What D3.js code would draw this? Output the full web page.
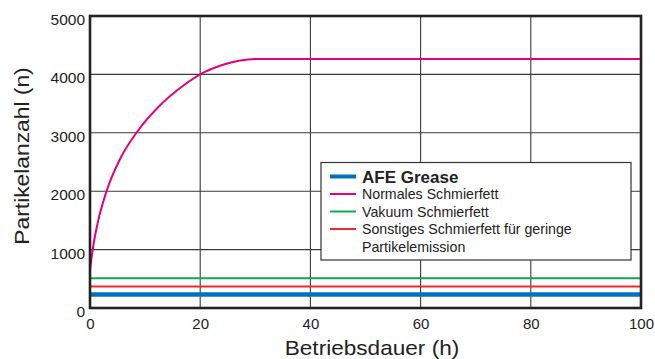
<!DOCTYPE html>
<html>
<head>
<meta charset="utf-8">
<script src="https://cdn.jsdelivr.net/npm/d3@7"></script>
<style>
  html, body { margin: 0; padding: 0; background: #fff; }
  svg { display: block; font-family: "Liberation Sans", Arial, Helvetica, sans-serif; }
</style>
</head>
<body>
<svg id="chart" width="655" height="359"></svg>
<script>
// Particle count over operating time for different greases
const xTicks = [0, 20, 40, 60, 80, 100];
const yTicks = [0, 1000, 2000, 3000, 4000, 5000];

const afeHours = [0, 100];
const afeCount = [230, 230];

const normalHours = [0, 0.5, 1.5, 3, 5.5, 8.5, 12.5, 16, 20, 24, 27, 30, 100];
const normalCount = [650, 1010, 1500, 2000, 2560, 3010, 3450, 3740, 4000, 4160, 4235, 4265, 4265];

const vacuumHours = [0, 100];
const vacuumCount = [510, 510];

const otherHours = [0, 100];
const otherCount = [370, 370];

const seriesNames = ["AFE Grease", "Normales Schmierfett", "Vakuum Schmierfett", "Sonstiges Schmierfett für geringe", "Partikelemission"];
const seriesColors = ["#0071bb", "#e5007e", "#12a651", "#ec2a30"];

const svg = d3.select("#chart");
const plot = { left: 90, top: 16, right: 641, bottom: 308 };

const x = d3.scaleLinear().domain([0, 100]).range([plot.left, plot.right]);
const y = d3.scaleLinear().domain([0, 5000]).range([plot.bottom, plot.top]);

// grid
svg.append("g")
  .selectAll("line")
  .data(xTicks.filter(d => d > 0 && d < 100))
  .join("line")
  .attr("x1", d => x(d)).attr("x2", d => x(d))
  .attr("y1", plot.top).attr("y2", plot.bottom)
  .attr("stroke", "#3a3a3a").attr("stroke-width", 1.1);

svg.append("g")
  .selectAll("line")
  .data(yTicks.filter(d => d > 0 && d < 5000))
  .join("line")
  .attr("x1", plot.left).attr("x2", plot.right)
  .attr("y1", d => y(d)).attr("y2", d => y(d))
  .attr("stroke", "#3a3a3a").attr("stroke-width", 1.1);

// axes (labels only, frame drawn separately)
const xAxis = svg.append("g")
  .attr("transform", `translate(0,${plot.bottom})`)
  .call(d3.axisBottom(x).tickValues(xTicks).tickSize(0).tickPadding(10).tickFormat(d3.format("d")));
xAxis.select(".domain").remove();
xAxis.selectAll("text").attr("font-size", 15).attr("fill", "#222").attr("font-family", "Liberation Sans, Arial, sans-serif");

const yAxis = svg.append("g")
  .attr("transform", `translate(${plot.left},0)`)
  .call(d3.axisLeft(y).tickValues(yTicks).tickSize(0).tickPadding(5).tickFormat(d3.format("d")));
yAxis.select(".domain").remove();
yAxis.selectAll("text").attr("font-size", 15.5).attr("fill", "#222").attr("dy", "0.55em").attr("font-family", "Liberation Sans, Arial, sans-serif");

// series lines
const straight = d3.line().x(d => x(d[0])).y(d => y(d[1]));
const smooth = d3.line().x(d => x(d[0])).y(d => y(d[1])).curve(d3.curveMonotoneX);
const series = [
  { hours: vacuumHours, count: vacuumCount, color: seriesColors[2], width: 2 },
  { hours: otherHours, count: otherCount, color: seriesColors[3], width: 2 },
  { hours: afeHours, count: afeCount, color: seriesColors[0], width: 4.5 },
  { hours: normalHours, count: normalCount, color: seriesColors[1], width: 2, gen: smooth }
];
series.forEach(s => {
  svg.append("path")
    .datum(d3.zip(s.hours, s.count))
    .attr("d", s.gen || straight)
    .attr("fill", "none")
    .attr("stroke", s.color)
    .attr("stroke-width", s.width);
});

// frame
svg.append("rect")
  .attr("x", plot.left).attr("y", plot.top)
  .attr("width", plot.right - plot.left).attr("height", plot.bottom - plot.top)
  .attr("fill", "none").attr("stroke", "#222").attr("stroke-width", 2.6);

// axis titles (slightly widened lettering)
svg.append("text")
  .attr("transform", `translate(372,355) scale(1.13,1)`)
  .attr("text-anchor", "middle").attr("font-size", 20).attr("fill", "#222")
  .text("Betriebsdauer (h)");

svg.append("text")
  .attr("transform", `translate(29,156) rotate(-90) scale(1.14,1)`)
  .attr("text-anchor", "middle").attr("font-size", 20).attr("fill", "#222")
  .text("Partikelanzahl (n)");

// legend
const lg = svg.append("g");
lg.append("rect")
  .attr("x", 321).attr("y", 162.5).attr("width", 310).attr("height", 97.5)
  .attr("fill", "#fff").attr("stroke", "#333").attr("stroke-width", 1.2);

const rowY = [176.5, 194, 211.5, 229, 247];
const legendRows = seriesNames.map((name, i) => ({
  name,
  y: rowY[i],
  color: i < 4 ? seriesColors[i] : null,
  bold: i === 0
}));
legendRows.forEach(r => {
  if (r.color) {
    lg.append("line")
      .attr("x1", 330).attr("x2", 356)
      .attr("y1", r.y).attr("y2", r.y)
      .attr("stroke", r.color).attr("stroke-width", r.bold ? 4 : 2);
  }
  lg.append("text")
    .attr("x", 362).attr("y", r.y)
    .attr("dy", "0.36em")
    .attr("font-size", r.bold ? 17 : 14.2)
    .attr("font-weight", r.bold ? "bold" : "normal")
    .attr("fill", "#222")
    .text(r.name);
});
</script>
</body>
</html>
